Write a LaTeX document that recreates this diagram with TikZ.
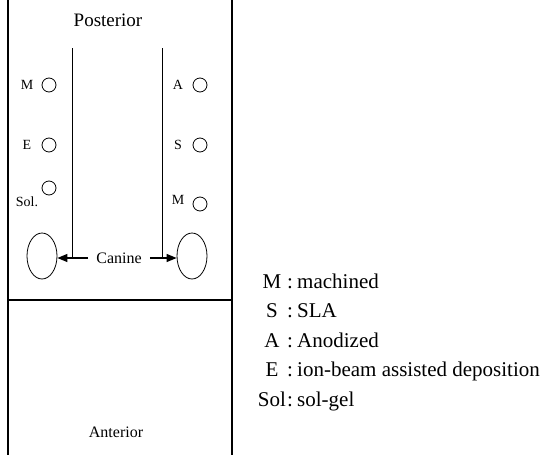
\documentclass[tikz,border=0pt]{standalone}
\usepackage{fontspec}
\setmainfont{Liberation Serif}
\usetikzlibrary{arrows.meta,shapes.geometric}
\newcommand{\fs}[1]{\fontsize{#1}{#1}\selectfont}
\begin{document}
\begin{tikzpicture}[x=1pt,y=-1pt,
  wall/.style={line width=1.6pt},
  inner/.style={line width=0.8pt},
  implant/.style={draw,circle,minimum size=14pt,inner sep=0pt,line width=0.8pt},
  tooth/.style={draw,ellipse,minimum width=30pt,minimum height=46pt,inner sep=0pt,line width=0.8pt},
  lbl/.style={font=\fs{14},inner sep=0pt},
  leg/.style={font=\fs{21},inner sep=0pt,anchor=base},
  arr/.style={line width=1.2pt,-{Triangle[length=10pt,width=8pt]}}]
\useasboundingbox (0,0) rectangle (541,455);
% walls
\coordinate (lt) at (8,0); \coordinate (lb) at (8,455);
\coordinate (rt) at (232,0); \coordinate (rb) at (232,455);
\draw[wall] (lt) -- (lb);
\draw[wall] (rt) -- (rb);
\coordinate (hl) at (8,300); \coordinate (hr) at (232,300);
\draw[wall] (hl) -- (hr);
% texts
\node[font=\fs{19},inner sep=0pt] (post) at (108,20) {Posterior};
\node[font=\fs{16},inner sep=0pt] (ant) at (116,432) {Anterior};
% teeth
\node[tooth] (tl) at (42,256) {};
\node[tooth] (tr) at (192,256) {};
\node[font=\fs{16},inner sep=2pt] (can) at (119,258) {Canine};
\coordinate (ilt) at (72,48); \coordinate (ilb) at (72,258);
\coordinate (irt) at (162,48); \coordinate (irb) at (162,258);
\draw[inner] (ilt) -- (ilb);
\draw[inner] (irt) -- (irb);
\draw[arr] (can.west) ++(-6,0) coordinate (cw) -- (tl.east |- cw);
\draw[arr] (can.east) ++(6,0) coordinate (ce) -- (tr.west |- ce);
% implants left
\node[lbl] (lm) at (27,85) {M};
\node[implant] (clm) at (49,85) {};
\node[lbl] (le) at (27,145) {E};
\node[implant] (cle) at (49,145) {};
\node[lbl] (ls) at (27,202) {Sol.};
\node[implant] (cls) at (49,188) {};
% implants right
\node[lbl] (ra) at (178,85) {A};
\node[implant] (cra) at (200,85) {};
\node[lbl] (rs) at (178,145) {S};
\node[implant] (crs) at (200,145) {};
\node[lbl] (rm) at (178,200) {M};
\node[implant] (crm) at (200,204) {};
% legend
\foreach \k/\t/\y/\n in {M/machined/288/a,S/SLA/317.5/b,A/Anodized/347/c,E/ion-beam assisted deposition/376.5/d,Sol/sol-gel/406/e}{
  \node[leg] (k\n) at (272,\y) {\k};
  \node[leg] (c\n) at (290,\y) {:};
  \node[leg,anchor=base west] (t\n) at (297,\y) {\t};
}
\end{tikzpicture}
\end{document}
